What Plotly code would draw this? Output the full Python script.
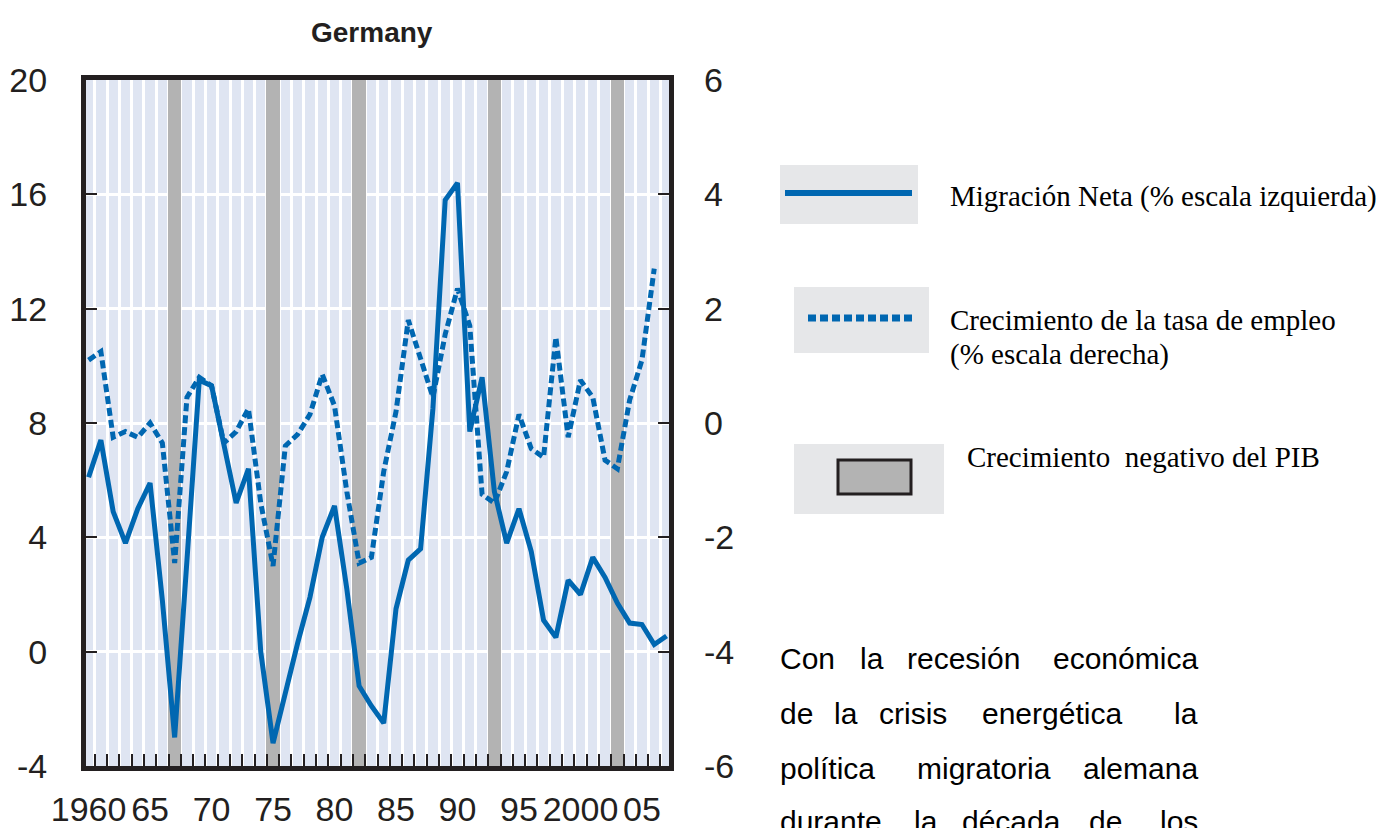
import plotly.graph_objects as go

# ---------------- data ----------------
years = list(range(1960, 2008))

net_migration = [  # left scale (%)
    6.1, 7.4, 4.9, 3.8, 5.0, 5.9, 1.8, -3.0, 3.2, 9.5,
    9.3, 7.2, 5.2, 6.4, 0.0, -3.2, -1.4, 0.3, 1.9, 4.0,
    5.1, 2.2, -1.2, -1.9, -2.5, 1.5, 3.2, 3.6, 8.5, 15.8,
    16.4, 7.7, 9.6, 5.6, 3.8, 5.0, 3.5, 1.1, 0.5, 2.5,
    2.0, 3.3, 2.6, 1.7, 1.0, 0.95, 0.25, 0.55,
]

employment_growth = [  # right scale (%)
    1.1, 1.25, -0.25, -0.15, -0.25, 0.0, -0.35, -2.45, 0.45, 0.8,
    0.65, -0.35, -0.15, 0.25, -1.4, -2.5, -0.4, -0.2, 0.15, 0.85,
    0.3, -1.2, -2.45, -2.35, -0.85, 0.2, 1.8, 1.1, 0.45, 1.55,
    2.35, 1.7, -1.25, -1.4, -0.85, 0.15, -0.45, -0.6, 1.5, -0.25,
    0.75, 0.45, -0.65, -0.8, 0.4, 1.1, 2.7, None,
]

recession_years = [1967, 1975, 1982, 1993, 2003]

left_ticks = [-4, 0, 4, 8, 12, 16, 20]
left_labels = ["-4", "0", "4", "8", "12", "16", "20"]
right_ticks = [-6, -4, -2, 0, 2, 4, 6]
right_labels = ["-6", "-4", "-2", "0", "2", "4", "6"]
label_years = [1960, 1965, 1970, 1975, 1980, 1985, 1990, 1995, 2000, 2005]
label_text = ["1960", "65", "70", "75", "80", "85", "90", "95", "2000", "05"]

title_text = "Germany"
legend_texts = [
    "Migración Neta (% escala izquierda)",
    "Crecimiento de la tasa de empleo",
    "(% escala derecha)",
    "Crecimiento\u00a0 negativo del PIB",
]
body_lines = [
    ["Con", "la", "recesión", "económica"],
    ["de", "la", "crisis", "energética", "la"],
    ["política", "migratoria", "alemana"],
    ["durante", "la", "década", "de", "los"],
]

# ---------------- layout geometry ----------------
W, H = 1383, 828
L, R, T, B = 86, 669, 80, 766

def px(x):
    return (x - L) / (R - L)

def py(y):
    return (B - y) / (B - T)

BLUE = "#0067b1"
DARK = "#231f20"
NARROW = "Liberation Sans Narrow, Arial Narrow, Liberation Sans, Arial, sans-serif"
SANS = "Liberation Sans, Arial, sans-serif"
SERIF = "Liberation Serif, Times New Roman, serif"

fig = go.Figure()

fig.add_trace(go.Bar(
    x=recession_years, y=[24] * len(recession_years), base=-4, width=1.1,
    marker=dict(color="#b3b3b3", line=dict(width=0)),
    xaxis="x", yaxis="y", hoverinfo="skip",
))
fig.add_trace(go.Scatter(
    x=years, y=net_migration, mode="lines",
    line=dict(color=BLUE, width=5), xaxis="x", yaxis="y",
))
fig.add_trace(go.Scatter(
    x=years, y=employment_growth, mode="lines",
    line=dict(color=BLUE, width=5, dash="8px,4px"), xaxis="x", yaxis="y2",
))
# carrier for the labelled year axis
fig.add_trace(go.Scatter(
    x=label_years, y=[8] * len(label_years), mode="markers",
    marker=dict(opacity=0), xaxis="x2", yaxis="y", hoverinfo="skip",
))

xr = [1959.79, 2007.2]
tickfont = dict(family=NARROW, size=34, color=DARK)

fig.update_layout(
    width=W, height=H, autosize=False,
    margin=dict(l=L, r=W - R, t=T, b=H - B, pad=0),
    paper_bgcolor="white", plot_bgcolor="#dfe5f2",
    showlegend=False, bargap=0,
    xaxis=dict(
        range=xr, tickmode="array", tickvals=[y + 0.5 for y in years[:-1]],
        showticklabels=False, ticks="inside", ticklen=12, tickwidth=2, tickcolor=DARK,
        showgrid=True, gridcolor="white", gridwidth=3, automargin=False,
        showline=True, linecolor=DARK, linewidth=5, mirror=True, zeroline=False,
    ),
    xaxis2=dict(
        range=xr, overlaying="x", anchor="y", side="bottom",
        tickmode="array", tickvals=label_years, ticktext=label_text, tickangle=0,
        ticks="", showgrid=False, showline=False, zeroline=False, automargin=False,
        tickfont=tickfont, ticklabelstandoff=20,
    ),
    yaxis=dict(
        range=[-4, 20], tickmode="array", tickvals=left_ticks, ticktext=left_labels,
        ticks="inside", ticklen=11, tickwidth=2, tickcolor=DARK, automargin=False,
        showgrid=True, gridcolor="white", gridwidth=3,
        showline=True, linecolor=DARK, linewidth=5, mirror=True, zeroline=False,
        tickfont=tickfont, ticklabelstandoff=27,
    ),
    yaxis2=dict(
        range=[-6, 6], overlaying="y", side="right",
        tickmode="array", tickvals=right_ticks, ticktext=right_labels,
        ticks="inside", ticklen=11, tickwidth=2, tickcolor=DARK, automargin=False,
        showgrid=False, showline=False, zeroline=False,
        tickfont=tickfont, ticklabelstandoff=34,
    ),
)

shapes = []
annotations = []

# title
annotations.append(dict(
    text=f"<b>{title_text}</b>", x=px(372), y=py(33), xref="paper", yref="paper",
    xanchor="center", yanchor="middle", showarrow=False,
    font=dict(family=NARROW, size=28, color=DARK),
))

# custom legend
def rect(x0, y0, x1, y1, fill, lc=None, lw=0):
    shapes.append(dict(type="rect", xref="paper", yref="paper",
                       x0=px(x0), x1=px(x1), y0=py(y1), y1=py(y0),
                       fillcolor=fill, line=dict(color=lc or fill, width=lw), layer="above"))

def hline(x0, x1, y, width, dash="solid"):
    shapes.append(dict(type="line", xref="paper", yref="paper",
                       x0=px(x0), x1=px(x1), y0=py(y), y1=py(y),
                       line=dict(color=BLUE, width=width, dash=dash), layer="above"))

rect(780, 165, 918, 224, "#e6e7e9")
hline(785, 912, 193, 6)
rect(794, 287, 929, 353, "#e6e7e9")
hline(808, 914, 318, 7, "8px,4px")
rect(794, 444, 944, 514, "#e6e7e9")
rect(838, 460, 911, 494, "#b3b3b3", DARK, 3)

legend_pos = [(948, 196), (948, 320), (948, 354), (965, 457)]
for txt, (lx, ly) in zip(legend_texts, legend_pos):
    annotations.append(dict(
        text=txt, x=px(lx), y=py(ly), xref="paper", yref="paper",
        xanchor="left", yanchor="middle", showarrow=False,
        font=dict(family=SERIF, size=29, color="black"),
    ))

# justified body text
word_left = [
    [778, 858, 905, None],
    [778, 832, 877, 980, None],
    [778, 915, None],
    [778, 912, 960, 1087, None],
]
line_y = [658, 713, 768, 821]
for words, lefts, ly in zip(body_lines, word_left, line_y):
    for wtxt, wx in zip(words, lefts):
        annotations.append(dict(
            text=wtxt, x=px(wx if wx is not None else 1200), y=py(ly),
            xref="paper", yref="paper",
            xanchor="left" if wx is not None else "right", yanchor="middle",
            showarrow=False, font=dict(family=SANS, size=30, color="black"),
        ))

fig.update_layout(shapes=shapes, annotations=annotations)
fig.write_html("out.html", config={"displayModeBar": False})

# remove the browser's default page margin so the figure sits at (0, 0)
with open("out.html", encoding="utf-8") as f:
    html = f.read()
html = html.replace(
    "<head>",
    "<head><style>html,body{margin:0;padding:0;overflow:hidden;}</style>",
    1,
)
with open("out.html", "w", encoding="utf-8") as f:
    f.write(html)
